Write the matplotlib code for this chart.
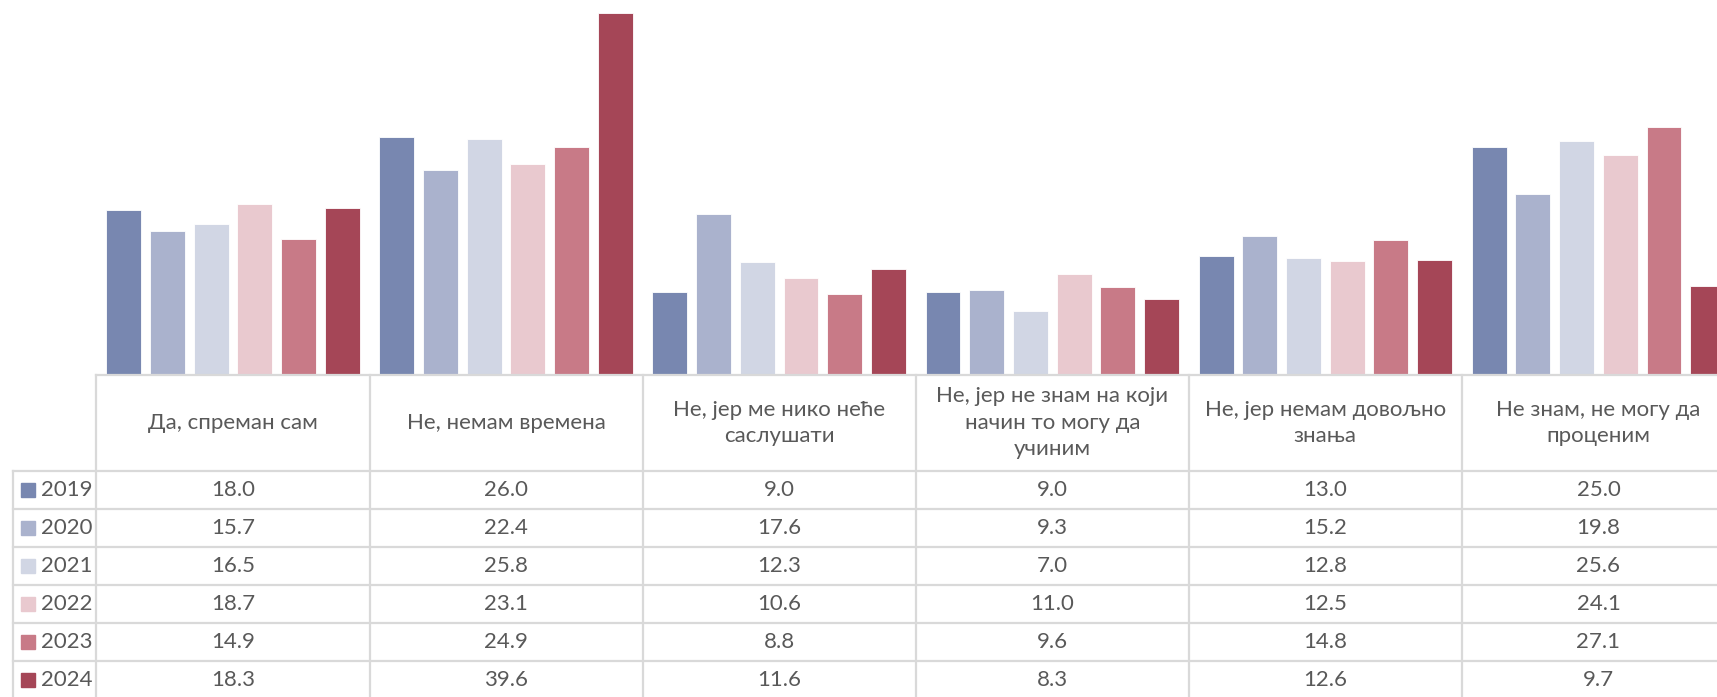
import numpy as np
import matplotlib
matplotlib.use('Agg')
import matplotlib.pyplot as plt
from matplotlib.patches import Rectangle

# data
categories = ["Да, спреман сам", "Не, немам времена", "Не, јер ме нико неће\nсаслушати",
              "Не, јер не знам на који\nначин то могу да\nучиним", "Не, јер немам довољно\nзнања",
              "Не знам, не могу да\nпроценим"]
years = ["2019", "2020", "2021", "2022", "2023", "2024"]
v2019 = [18.0, 26.0, 9.0, 9.0, 13.0, 25.0]
v2020 = [15.7, 22.4, 17.6, 9.3, 15.2, 19.8]
v2021 = [16.5, 25.8, 12.3, 7.0, 12.8, 25.6]
v2022 = [18.7, 23.1, 10.6, 11.0, 12.5, 24.1]
v2023 = [14.9, 24.9, 8.8, 9.6, 14.8, 27.1]
v2024 = [18.3, 39.6, 11.6, 8.3, 12.6, 9.7]
series = [v2019, v2020, v2021, v2022, v2023, v2024]
colors = ["#7887B0", "#AAB2CD", "#D1D6E4", "#E9C9CF", "#C87A87", "#A54657"]

plt.rcParams['font.family'] = ['Lato', 'DejaVu Sans']
W, H = 1717, 697
fig = plt.figure(figsize=(W / 100, H / 100), dpi=100)

# layout in pixels
x0 = 96.4        # left edge of first category column
colw = 273.1     # category column width
base = 374.5     # bar baseline
ymax = 40
pxu = 9.12       # pixels per unit
top = base - ymax * pxu

ax = fig.add_axes([x0 / W, (H - base) / H, (W - x0) / W, (base - top) / H])
ax.set_xlim(-0.5, -0.5 + (W - x0) / colw)
ax.set_ylim(0, ymax)
ax.axis('off')

x = np.arange(len(categories))
step, bw = 0.16, 0.128
for k, (vals, c) in enumerate(zip(series, colors)):
    ax.bar(x + (k - 2.5) * step, vals, bw, color=c, edgecolor='white', linewidth=0.6)

# table overlay in pixel coords
tx = fig.add_axes([0, 0, 1, 1])
tx.set_xlim(0, W)
tx.set_ylim(H, 0)
tx.axis('off')
tx.patch.set_alpha(0)

gc = "#D9D9D9"
tc = "#595959"
lw = 1.6
hdr_bot = 471
rowh = 38
legx = 13

tx.plot([x0, W], [base, base], color=gc, lw=lw)
for i in range(7):
    xi = x0 + i * colw
    tx.plot([xi, xi], [base, H], color=gc, lw=lw)
tx.plot([legx, legx], [hdr_bot, H], color=gc, lw=lw)
for r in range(7):
    yr = hdr_bot + r * rowh
    tx.plot([legx, W], [yr, yr], color=gc, lw=lw)

fs = 16
for i, cat in enumerate(categories):
    cx = x0 + (i + 0.5) * colw
    tx.text(cx, (base + hdr_bot) / 2, cat, ha='center', va='center', color=tc,
            fontsize=fs, linespacing=1.4)

for r, (yr_lab, vals, c) in enumerate(zip(years, series, colors)):
    cy = hdr_bot + (r + 0.5) * rowh
    tx.add_patch(Rectangle((21, cy - 7), 14, 14, color=c))
    tx.text(41, cy, yr_lab, ha='left', va='center', color=tc, fontsize=fs)
    for i, v in enumerate(vals):
        cx = x0 + (i + 0.5) * colw
        tx.text(cx, cy, f"{v:.1f}", ha='center', va='center', color=tc, fontsize=fs)

fig.savefig("out.png", dpi=100)
